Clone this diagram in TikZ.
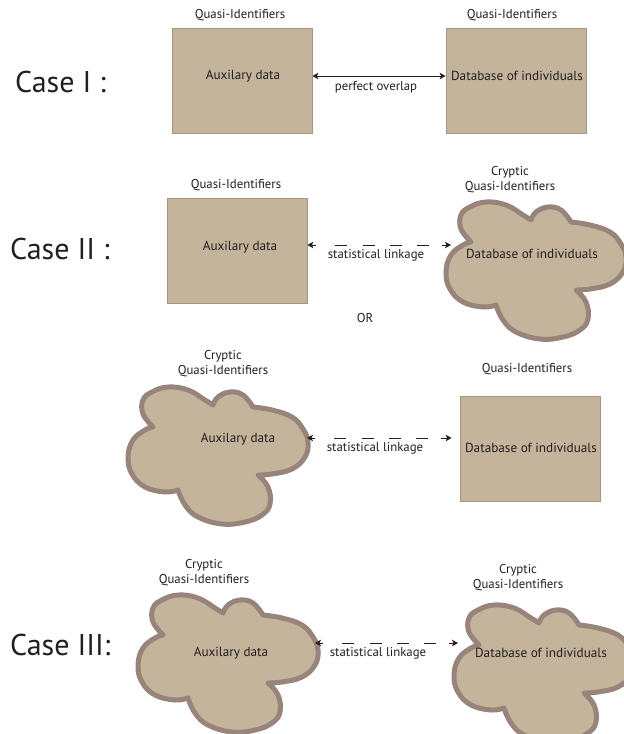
\documentclass[tikz,border=0pt]{standalone}
\usepackage{fontspec}
\setmainfont{PT Sans}
\usetikzlibrary{arrows.meta}
\definecolor{tan}{RGB}{196,180,156}
\definecolor{rectline}{RGB}{165,150,130}
\definecolor{cloudline}{RGB}{152,132,122}
\definecolor{ink}{RGB}{35,31,32}
\tikzset{
  box/.style={draw=rectline, line width=0.8pt, fill=tan, minimum width=140pt, minimum height=105pt, inner sep=0pt},
  lbl/.style={font=\fontsize{12.8}{15}\selectfont, text=ink, align=center, inner sep=0pt},
  inlbl/.style={font=\fontsize{13.2}{15}\selectfont, text=ink, inner sep=0pt},
  casel/.style={font=\fontsize{30}{34}\selectfont, text=ink, inner sep=0pt, anchor=base west},
  solidlink/.style={ink, line width=0.9pt, {Stealth[length=6pt,width=6.5pt,inset=1.5pt]}-{Stealth[length=6pt,width=6.5pt,inset=1.5pt]}},
  dashlink/.style={ink, line width=0.9pt, {Stealth[length=6pt,width=6.5pt,inset=1.5pt]}-{Stealth[length=6pt,width=6.5pt,inset=1.5pt]},
    dash pattern=on 4pt off 19pt on 12pt off 16pt on 12pt off 15pt on 12pt off 15pt on 12pt off 13pt on 30pt},
  cloudshape/.pic={
    \draw[cloudline, line width=5pt, fill=tan, line join=round]
      plot[smooth, tension=0.7] coordinates {(26,42) (16,29) (16,15) (25,7) (41,2) (61,5) (78,15) (86,20)}
      -- plot[smooth, tension=0.7] coordinates {(86,20) (91,12) (103,7) (116,10) (126,22)}
      -- plot[smooth, tension=0.7] coordinates {(126,22) (145,25) (165,32) (176,44) (181,57) (178,72) (165,84) (145,89) (131,90)}
      -- plot[smooth, tension=0.7] coordinates {(131,90) (141,102) (143,119) (135,130) (118,137) (95,139) (71,132) (58,120) (51,105)}
      -- plot[smooth, tension=0.7] coordinates {(51,105) (38,107) (18,102) (5,89) (1,72) (6,55) (18,45) (26,42)}
      -- cycle;
  }
}
\begin{document}
\begin{tikzpicture}[x=1pt, y=-1pt]
\clip (0,0) rectangle (624,734);
\fill[white] (0,0) rectangle (624,734);

% ---------- Case I ----------
\node[casel] (case1) at (15,92) {Case I :};
\node[box] (a1) at (242,80.5) {};
\node[box] (b1) at (516,80.5) {};
\node[lbl] (qa1) at (240,15) {Quasi-Identifiers};
\node[lbl] (qb1) at (512,15) {Quasi-Identifiers};
\node[inlbl] (ta1) at (243,76) {Auxilary data};
\node[inlbl] (tb1) at (517,76) {Database of individuals};
\draw[solidlink] ([yshift=4.5pt]a1.east) -- ([yshift=4.5pt]b1.west);
\node[lbl] (l1) at (376,87) {perfect overlap};

% ---------- Case II (upper) ----------
\node[casel] (case2) at (10,259) {Case II :};
\node[box] (a2) at (237,250.5) {};
\node[lbl] (qa2) at (236,185) {Quasi-Identifiers};
\node[inlbl] (ta2) at (240,247) {Auxilary data};
\pic at (445,200) {cloudshape};
\coordinate (c2u) at (451,245);
\node[lbl] (qb2) at (510,180) {Cryptic\\Quasi-Identifiers};
\node[inlbl] (tb2) at (532,254) {Database of individuals};
\draw[dashlink] ([yshift=5.5pt]a2.east) -- (c2u);
\node[lbl] (l2) at (376,255) {statistical linkage};

\node[lbl] (or) at (365,318) {OR};

% ---------- Case II (lower) ----------
\pic at (127,385) {cloudshape};
\coordinate (c2l) at (307,438);
\node[lbl] (qa3) at (223,364) {Cryptic\\Quasi-Identifiers};
\node[inlbl] (ta3) at (238,439) {Auxilary data};
\node[box] (b3) at (530,448.5) {};
\node[lbl] (qb3) at (527,369) {Quasi-Identifiers};
\node[inlbl] (tb3) at (531,448) {Database of individuals};
\draw[dashlink] (c2l) -- ([yshift=10.5pt, xshift=-8pt]b3.west);
\node[lbl] (l3) at (375,448) {statistical linkage};

% ---------- Case III ----------
\node[casel] (case3) at (10,655) {Case III:};
\pic at (137,593) {cloudshape};
\pic at (453,603) {cloudshape};
\coordinate (c3l) at (315,643);
\coordinate (c3r) at (458,643);
\node[lbl] (qa4) at (204,573) {Cryptic\\Quasi-Identifiers};
\node[lbl] (qb4) at (518,578) {Cryptic\\Quasi-Identifiers};
\node[inlbl] (ta4) at (231,653) {Auxilary data};
\node[inlbl] (tb4) at (541,653) {Database of individuals};
\draw[dashlink] (c3l) -- (c3r);
\node[lbl] (l4) at (378,653) {statistical linkage};
\end{tikzpicture}
\end{document}
